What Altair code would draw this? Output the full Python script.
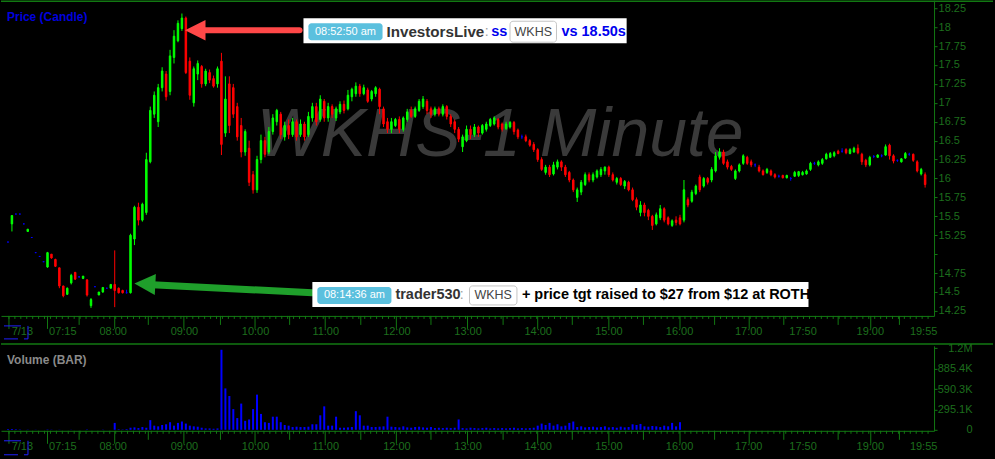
import json
import numpy as np
import pandas as pd
import altair as alt

FONT = "Liberation Sans, Arial, Helvetica, sans-serif"
LINE_GREEN = "#127812"
TEXT_GREEN = "#1d6e1d"
UP, DOWN, FLAT = "#00ff00", "#ff0000", "#0000ff"

# ---- candles: one per slot along the session axis (pre-market, regular, after hours)
opens = [15.16, 15.40, 15.53, 15.53, 15.40, 15.30, 15.22, 15.02, 14.97, 14.90,
         14.83, 15.00, 14.93, 14.82, 14.58, 14.47, 14.62, 14.76, 14.70, 14.68,
         14.66, 14.32, 14.57, 14.46, 14.50, 14.55, 14.55, 14.60, 14.55, 14.52,
         14.49, 14.49, 15.20, 15.62, 15.45, 15.55, 16.22, 16.85, 16.75, 17.20,
         17.38, 17.15, 17.60, 17.82, 17.98, 18.12, 17.55, 17.00, 17.38, 17.48,
         17.25, 17.40, 17.32, 17.25, 17.55, 16.60, 17.25, 17.20, 16.95, 16.70,
         16.35, 16.40, 16.05, 15.85, 16.25, 16.50, 16.35, 16.62, 16.75, 16.85,
         16.55, 16.70, 16.58, 16.75, 16.58, 16.72, 16.58, 16.80, 16.95, 16.78,
         17.02, 16.80, 16.95, 16.80, 16.88, 16.98, 16.92, 17.08, 17.12, 17.22,
         17.12, 17.17, 17.05, 17.12, 17.18, 16.92, 16.75, 16.65, 16.70, 16.78,
         16.65, 16.78, 16.90, 16.82, 16.90, 16.95, 17.02, 16.92, 16.85, 16.92,
         16.85, 16.95, 16.82, 16.75, 16.65, 16.42, 16.50, 16.65, 16.58, 16.68,
         16.60, 16.65, 16.70, 16.72, 16.78, 16.72, 16.66, 16.68, 16.74, 16.64,
         16.55, 16.55, 16.50, 16.45, 16.38, 16.25, 16.08, 16.15, 16.06, 16.15,
         16.22, 16.15, 16.08, 15.98, 15.75, 15.82, 15.92, 16.05, 15.98, 16.02,
         16.05, 16.10, 16.15, 16.05, 15.95, 16.00, 15.90, 15.95, 15.85, 15.72,
         15.55, 15.65, 15.58, 15.50, 15.40, 15.48, 15.60, 15.48, 15.38, 15.45,
         15.48, 15.45, 15.72, 15.70, 15.80, 16.02, 15.90, 16.00, 15.98, 16.10,
         16.28, 16.35, 16.22, 16.16, 16.00, 16.10, 16.20, 16.28, 16.22, 16.18,
         16.15, 16.10, 16.08, 16.10, 16.05, 16.03, 16.04, 16.01, 16.00, 16.03,
         16.04, 16.05, 16.06, 16.12, 16.20, 16.18, 16.20, 16.26, 16.28, 16.30,
         16.36, 16.36, 16.38, 16.33, 16.35, 16.40, 16.32, 16.24, 16.18, 16.29,
         16.28, 16.30, 16.31, 16.44, 16.30, 16.24, 16.22, 16.27, 16.32, 16.32,
         16.22, 16.06, 16.05]
highs = [15.16, 15.51, 15.53, 15.53, 15.40, 15.33, 15.22, 15.02, 14.97, 14.90,
         15.03, 15.00, 14.94, 14.82, 14.58, 14.56, 14.74, 14.76, 14.71, 14.71,
         14.67, 14.42, 14.57, 14.50, 14.56, 14.55, 14.60, 15.05, 14.56, 14.53,
         14.53, 15.27, 15.64, 15.68, 15.68, 16.34, 16.95, 17.15, 17.25, 17.47,
         17.42, 17.70, 17.96, 18.09, 18.18, 18.14, 17.60, 17.48, 17.56, 17.50,
         17.45, 17.44, 17.36, 17.48, 17.66, 17.35, 17.35, 17.25, 17.00, 16.80,
         16.65, 16.50, 16.10, 16.30, 16.58, 16.55, 16.68, 16.85, 16.92, 16.88,
         16.75, 16.78, 16.80, 16.78, 16.78, 16.75, 16.88, 17.00, 17.00, 17.10,
         17.05, 17.00, 16.98, 16.95, 17.02, 17.03, 17.17, 17.20, 17.27, 17.25,
         17.24, 17.20, 17.17, 17.22, 17.20, 16.95, 16.80, 16.80, 16.80, 16.82,
         16.82, 16.92, 16.95, 16.95, 17.05, 17.09, 17.05, 16.95, 16.95, 16.95,
         16.98, 16.97, 16.85, 16.78, 16.68, 16.58, 16.70, 16.70, 16.72, 16.70,
         16.72, 16.75, 16.80, 16.82, 16.80, 16.74, 16.75, 16.76, 16.76, 16.66,
         16.58, 16.58, 16.52, 16.48, 16.40, 16.28, 16.18, 16.18, 16.22, 16.25,
         16.24, 16.18, 16.10, 16.00, 15.88, 15.98, 16.08, 16.08, 16.08, 16.12,
         16.15, 16.16, 16.17, 16.08, 16.02, 16.02, 15.98, 15.97, 15.88, 15.75,
         15.70, 15.68, 15.60, 15.52, 15.55, 15.65, 15.62, 15.50, 15.46, 15.50,
         15.52, 15.98, 15.75, 15.85, 15.92, 16.05, 16.02, 16.02, 16.15, 16.35,
         16.40, 16.38, 16.25, 16.18, 16.12, 16.20, 16.32, 16.30, 16.25, 16.20,
         16.18, 16.12, 16.14, 16.12, 16.07, 16.05, 16.05, 16.05, 16.02, 16.10,
         16.10, 16.10, 16.12, 16.22, 16.22, 16.24, 16.27, 16.34, 16.35, 16.36,
         16.38, 16.40, 16.40, 16.40, 16.42, 16.45, 16.34, 16.26, 16.30, 16.31,
         16.32, 16.32, 16.45, 16.46, 16.32, 16.25, 16.27, 16.35, 16.34, 16.33,
         16.24, 16.14, 16.08]
lows = [15.16, 15.30, 15.53, 15.53, 15.40, 15.30, 15.22, 15.02, 14.97, 14.90,
        14.82, 14.94, 14.83, 14.55, 14.43, 14.46, 14.60, 14.66, 14.69, 14.67,
        14.44, 14.29, 14.57, 14.46, 14.49, 14.55, 14.55, 14.30, 14.48, 14.48,
        14.48, 14.48, 15.12, 15.38, 15.43, 15.52, 16.20, 16.80, 16.68, 17.15,
        17.03, 17.10, 17.52, 17.80, 17.95, 17.38, 17.04, 16.95, 17.30, 17.20,
        17.22, 17.26, 17.20, 17.20, 16.31, 16.55, 16.60, 16.80, 16.50, 16.28,
        16.30, 15.90, 15.80, 15.81, 16.20, 16.28, 16.32, 16.58, 16.70, 16.52,
        16.50, 16.52, 16.55, 16.50, 16.55, 16.50, 16.55, 16.75, 16.70, 16.75,
        16.75, 16.75, 16.80, 16.76, 16.85, 16.86, 16.90, 17.02, 17.08, 17.08,
        17.10, 17.00, 17.02, 17.08, 16.85, 16.68, 16.60, 16.60, 16.68, 16.60,
        16.62, 16.75, 16.80, 16.80, 16.88, 16.92, 16.85, 16.80, 16.82, 16.82,
        16.82, 16.78, 16.68, 16.60, 16.48, 16.35, 16.48, 16.52, 16.55, 16.55,
        16.58, 16.62, 16.68, 16.70, 16.65, 16.62, 16.64, 16.66, 16.58, 16.52,
        16.52, 16.48, 16.42, 16.35, 16.22, 16.10, 16.05, 16.02, 16.04, 16.12,
        16.10, 16.02, 15.95, 15.82, 15.69, 15.78, 15.90, 15.95, 15.95, 16.00,
        16.02, 16.05, 16.02, 15.96, 15.92, 15.90, 15.86, 15.83, 15.70, 15.58,
        15.50, 15.50, 15.45, 15.32, 15.38, 15.45, 15.42, 15.38, 15.36, 15.38,
        15.38, 15.42, 15.62, 15.68, 15.78, 15.82, 15.88, 15.92, 15.95, 16.08,
        16.25, 16.18, 16.12, 16.10, 15.98, 16.08, 16.18, 16.18, 16.15, 16.15,
        16.08, 16.04, 16.06, 16.03, 16.00, 16.01, 16.00, 16.00, 15.97, 16.02,
        16.02, 16.04, 16.05, 16.10, 16.18, 16.16, 16.18, 16.25, 16.27, 16.28,
        16.32, 16.34, 16.32, 16.32, 16.34, 16.32, 16.18, 16.15, 16.16, 16.27,
        16.27, 16.28, 16.30, 16.25, 16.20, 16.22, 16.21, 16.26, 16.30, 16.22,
        16.08, 16.04, 15.88]
closes = [15.16, 15.51, 15.53, 15.53, 15.40, 15.33, 15.22, 15.02, 14.97, 14.90,
          15.02, 14.95, 14.84, 14.58, 14.45, 14.55, 14.72, 14.67, 14.70, 14.71,
          14.46, 14.40, 14.57, 14.50, 14.56, 14.55, 14.60, 14.52, 14.49, 14.49,
          14.49, 15.25, 15.62, 15.45, 15.66, 16.25, 16.90, 17.10, 17.20, 17.42,
          17.08, 17.62, 17.88, 18.05, 18.12, 17.40, 17.10, 17.45, 17.52, 17.25,
          17.42, 17.30, 17.22, 17.45, 16.45, 17.05, 16.70, 16.85, 16.55, 16.35,
          16.62, 15.95, 15.85, 16.25, 16.50, 16.32, 16.62, 16.80, 16.90, 16.58,
          16.70, 16.58, 16.75, 16.55, 16.72, 16.55, 16.82, 16.95, 16.75, 17.05,
          16.80, 16.95, 16.85, 16.92, 16.98, 16.90, 17.10, 17.18, 17.22, 17.12,
          17.20, 17.02, 17.15, 17.20, 16.95, 16.72, 16.65, 16.75, 16.78, 16.65,
          16.80, 16.88, 16.82, 16.92, 17.02, 17.05, 16.90, 16.85, 16.92, 16.85,
          16.95, 16.82, 16.72, 16.65, 16.52, 16.55, 16.65, 16.58, 16.68, 16.60,
          16.70, 16.72, 16.78, 16.80, 16.68, 16.65, 16.72, 16.74, 16.62, 16.55,
          16.55, 16.50, 16.44, 16.38, 16.25, 16.12, 16.15, 16.05, 16.18, 16.22,
          16.15, 16.05, 15.98, 15.85, 15.85, 15.95, 16.05, 15.98, 16.05, 16.10,
          16.12, 16.15, 16.05, 15.98, 16.00, 15.92, 15.96, 15.85, 15.72, 15.62,
          15.65, 15.55, 15.50, 15.38, 15.52, 15.60, 15.45, 15.40, 15.44, 15.42,
          15.40, 15.85, 15.65, 15.82, 15.90, 15.85, 16.00, 15.95, 16.12, 16.30,
          16.35, 16.20, 16.15, 16.12, 16.10, 16.18, 16.30, 16.20, 16.18, 16.18,
          16.10, 16.05, 16.12, 16.05, 16.02, 16.03, 16.01, 16.04, 16.00, 16.08,
          16.09, 16.08, 16.10, 16.20, 16.20, 16.22, 16.25, 16.32, 16.33, 16.34,
          16.33, 16.36, 16.34, 16.38, 16.40, 16.34, 16.22, 16.18, 16.28, 16.29,
          16.31, 16.30, 16.42, 16.30, 16.23, 16.24, 16.26, 16.33, 16.32, 16.24,
          16.10, 16.12, 15.92]

# ---- volume per slot, in thousands of shares (nothing printed after 16:00)
volume_k = [10, 12, 8, 5, 0, 3, 0, 2, 0, 0, 5, 3, 0, 2, 0, 0, 2, 0, 0, 0,
            5, 0, 0, 0, 3, 0, 0, 100, 8, 5, 10, 30, 35, 25, 40, 30, 140, 60, 50, 70,
            80, 110, 60, 100, 120, 90, 60, 50, 45, 30, 20, 20, 15, 20, 1160, 600, 490, 300, 170, 380,
            130, 150, 300, 510, 230, 110, 100, 190, 190, 110, 70, 60, 40, 45, 40, 40, 45, 80, 80, 210,
            340, 60, 60, 190, 30, 30, 35, 40, 270, 210, 60, 60, 40, 40, 45, 50, 190, 45, 40, 35,
            50, 35, 30, 40, 45, 35, 30, 40, 25, 30, 25, 30, 25, 30, 150, 25, 20, 30, 25, 20,
            25, 30, 20, 25, 20, 25, 20, 25, 30, 20, 25, 20, 25, 30, 60, 90, 70, 100, 60, 80,
            50, 60, 100, 120, 40, 50, 35, 40, 45, 35, 40, 50, 35, 40, 30, 45, 35, 40, 80, 70,
            85, 50, 45, 55, 50, 40, 60, 50, 100, 50, 110]

# ---- axis ticks and labels
price_ticks = [14.25, 14.5, 14.75, 15.0, 15.25, 15.5, 15.75, 16.0, 16.25,
               16.5, 16.75, 17.0, 17.25, 17.5, 17.75, 18.0, 18.25]
price_tick_labels = ["14.25", "14.5", "14.75", "", "15.25", "15.5", "15.75", "16", "16.25",
                     "16.5", "16.75", "17", "17.25", "17.5", "17.75", "18", "18.25"]
volume_ticks = [0, 295.1, 590.3, 885.4, 1180.4]
volume_tick_labels = ["0", "295.1K", "590.3K", "885.4K", "1.2M"]
time_label_slots = [3.5, 13.75, 26.5, 44.5, 62.5, 80.25, 98.25, 116.25, 134,
                    151.875, 169.75, 187.25, 201, 218, 231.5]
time_labels = ["7/13", "07:15", "08:00", "09:00", "10:00", "11:00", "12:00", "13:00", "14:00",
               "15:00", "16:00", "17:00", "17:50", "19:00", "19:55"]
hour_tick_slots = [0.25, 10, 27, 44.5, 62.5, 80.25, 98.25, 116.25, 134, 152, 170, 187.5, 218.25]
half_hour_tick_slots = [18, 35.5, 53.75, 71.25, 89.25, 107, 125.25, 142.75, 160.75,
                        178.75, 196.25, 210, 225.5]
minor_tick_slots = list(np.arange(0.25, 233, 1.5))

N_SLOTS = len(opens)
PRICE_H, VOL_H, W = 316, 85, 934

x_scale = alt.Scale(domain=[-0.5, N_SLOTS], nice=False, zero=False)
price_scale = alt.Scale(domain=[14.184, 18.3556], nice=False, zero=False)
volume_scale = alt.Scale(domain=[-14.5, 1216.6], nice=False, zero=False)


def lookup_expr(values, labels):
    return f"{json.dumps(labels)}[indexof({json.dumps(values)}, datum.value)]"


# every layer carries the same axis definition so the layered axes merge into one
time_axis = alt.Axis(values=time_label_slots, labelExpr=lookup_expr(time_label_slots, time_labels),
                     ticks=False, tickSize=0, grid=False, domainColor=LINE_GREEN, domainWidth=1,
                     labelColor=TEXT_GREEN, labelFont=FONT, labelFontSize=11, labelPadding=10,
                     labelFlush=False, labelOverlap=False, title=None)

price_axis = alt.Axis(orient="right", values=price_ticks,
                      labelExpr=lookup_expr(price_ticks, price_tick_labels),
                      tickSize=3, tickColor=LINE_GREEN, domainColor=LINE_GREEN,
                      labelColor=TEXT_GREEN, labelFont=FONT, labelFontSize=11, labelPadding=1,
                      grid=False, title=None, labelFlush=False, labelOverlap=False)

volume_axis = alt.Axis(orient="right", values=volume_ticks,
                       labelExpr=lookup_expr(volume_ticks, volume_tick_labels),
                       tickSize=3, tickColor=LINE_GREEN, domainColor=LINE_GREEN,
                       labelColor=TEXT_GREEN, labelFont=FONT, labelFontSize=11, labelPadding=35,
                       labelAlign="right", grid=False, title=None, labelFlush=False, labelOverlap=False)


def X(field="slot"):
    return alt.X(f"{field}:Q", scale=x_scale, axis=time_axis)


def PY(field):
    return alt.Y(f"{field}:Q", scale=price_scale, axis=price_axis)


one = pd.DataFrame({"k": [0]})


def hline(y, x0=0, x1=993, color=LINE_GREEN, width=1):
    return alt.Chart(one).mark_rule(color=color, strokeWidth=width).encode(
        x=alt.value(x0), x2=alt.value(x1), y=alt.value(y))


def vline(x, y0, y1, color, width=1):
    return alt.Chart(one).mark_rule(color=color, strokeWidth=width).encode(
        x=alt.value(x), y=alt.value(y0), y2=alt.value(y1))


def tick_layer(slots, base, length):
    return alt.Chart(pd.DataFrame({"slot": slots})).mark_rule(color=LINE_GREEN, strokeWidth=1).encode(
        x=X(), y=alt.value(base), y2=alt.value(base + length))


def date_bracket(top, bottom):
    blue = "#2020ff"
    return [hline(top, 3, 20, blue), vline(27, top, bottom, blue),
            hline(bottom, 3, 17, blue), hline(bottom, 23, 27, blue)]


# ---- candle data
candles = pd.DataFrame({"slot": np.arange(N_SLOTS), "open": opens, "high": highs,
                        "low": lows, "close": closes})
candles["dir"] = np.select([candles.close > candles.open, candles.close < candles.open],
                           ["up", "down"], "flat")
candles["body_lo"] = candles[["open", "close"]].min(axis=1)
candles["body_hi"] = candles[["open", "close"]].max(axis=1)
dir_scale = alt.Scale(domain=["up", "down", "flat"], range=[UP, DOWN, FLAT])

wicks = alt.Chart(candles).mark_rule(strokeWidth=1).encode(
    x=X(), y=PY("low"), y2="high:Q",
    color=alt.Color("dir:N", scale=dir_scale, legend=None))

bodies = alt.Chart(candles).mark_bar(size=1.5, strokeWidth=1).encode(
    x=X(), y=PY("body_lo"), y2="body_hi:Q",
    color=alt.Color("dir:N", scale=dir_scale, legend=None),
    stroke=alt.Stroke("dir:N", scale=dir_scale, legend=None))

watermark = alt.Chart(pd.DataFrame({"slot": [124.5], "price": [16.296], "t": ["WKHS-1 Minute"]})).mark_text(
    font=FONT, fontSize=68, fontStyle="italic", color="#3a3a3a", align="center", baseline="alphabetic"
).encode(x=X(), y=PY("price"), text="t:N")

panel_title = alt.Chart(one).mark_text(
    text="Price (Candle)", font=FONT, fontSize=12, fontWeight="bold", color="#0000dd",
    align="left", baseline="middle").encode(x=alt.value(6), y=alt.value(17))

# ---- chat callouts
RED_ARROW, GREEN_ARROW = "#ff4848", "#1f9f2b"
shafts = pd.DataFrame({"x": [49.5, 36.5], "x2": [73.75, 77.0], "y": [17.96, 14.596],
                       "y2": [17.96, 14.490], "c": [RED_ARROW, GREEN_ARROW], "w": [6, 7]})
shaft_layers = [
    alt.Chart(shafts.iloc[[i]]).mark_rule(strokeCap="round", strokeWidth=float(shafts.w[i]),
                                          color=shafts.c[i]).encode(
        x=X("x"), x2="x2:Q", y=PY("y"), y2="y2:Q")
    for i in range(2)
]
heads = pd.DataFrame({"x": [47.375, 34.625], "y": [17.96, 14.606]})
head_layers = [
    alt.Chart(heads.iloc[[0]]).mark_point(shape="M -1 0 L 1 -1 L 1 1 Z", size=420, filled=True,
                                          opacity=1, color=RED_ARROW).encode(x=X("x"), y=PY("y")),
    alt.Chart(heads.iloc[[1]]).mark_point(shape="M -1 0 L 1 -1 L 1 1 Z", size=441, filled=True,
                                          opacity=1, angle=3, color=GREEN_ARROW).encode(x=X("x"), y=PY("y")),
]

callout_boxes = pd.DataFrame({"x": [74.75, 77.0], "x2": [156.5, 202.5],
                              "y": [17.788, 14.303], "y2": [18.118, 14.633]})
badge_boxes = pd.DataFrame({"x": [76.0, 78.25], "x2": [94.75, 97.0],
                            "y": [17.828, 14.342], "y2": [18.052, 14.567]})
ticker_boxes = pd.DataFrame({"x": [127.0, 116.75], "x2": [138.75, 128.75],
                             "y": [17.801, 14.329], "y2": [18.078, 14.580]})


def rects(df, **kw):
    return alt.Chart(df).mark_rect(**kw).encode(x=X("x"), x2="x2:Q", y=PY("y"), y2="y2:Q")


def texts(rows, **kw):
    df = pd.DataFrame(rows, columns=["x", "y", "t"])
    return alt.Chart(df).mark_text(font=FONT, baseline="middle", **kw).encode(
        x=X("x"), y=PY("y"), text="t:N")


callouts = [
    rects(callout_boxes, color="#ffffff"),
    rects(badge_boxes, color="#5bc0de", cornerRadius=3),
    rects(ticker_boxes, color="#ffffff", stroke="#c4c4c4", strokeWidth=1, cornerRadius=3),
    texts([(85.375, 17.94, "08:52:50 am"), (87.625, 14.455, "08:14:36 am")],
          fontSize=11, color="#ffffff", align="center"),
    texts([(95.75, 17.94, "InvestorsLive")],
          fontSize=15.2, fontWeight="bold", color="#333333", align="left"),
    texts([(98.0, 14.455, "trader530")],
          fontSize=14.5, fontWeight="bold", color="#333333", align="left"),
    texts([(120.6, 17.94, ":"), (114.3, 14.455, ":")],
          fontSize=14, color="#a0a0a0", align="left"),
    texts([(122.25, 17.94, "ss"), (140.0, 17.94, "vs 18.50s")],
          fontSize=14.5, fontWeight="bold", color="#0000ee", align="left"),
    texts([(132.875, 17.94, "WKHS"), (122.75, 14.455, "WKHS")],
          fontSize=12.5, color="#444444", align="center"),
    texts([(130.0, 14.455, "+ price tgt raised to $27 from $12 at ROTH")],
          fontSize=14.5, fontWeight="bold", color="#000000", align="left"),
]

price_panel = alt.layer(
    hline(1, width=1.5), hline(344, width=1.5),
    watermark, wicks, bodies, panel_title,
    *shaft_layers, *head_layers, *callouts,
    tick_layer(minor_tick_slots, PRICE_H, 3),
    tick_layer(half_hour_tick_slots, PRICE_H, 9),
    tick_layer(hour_tick_slots, PRICE_H, 13),
    *date_bracket(326, 339),
).properties(width=W, height=PRICE_H)

# ---- volume panel
vol = pd.DataFrame({"slot": np.arange(len(volume_k)), "vol": volume_k})
vol = vol[vol.vol > 0]

vol_bars = alt.Chart(vol).mark_bar(size=2, color="#0000ff").encode(
    x=X(),
    y=alt.Y("vol:Q", scale=volume_scale, axis=volume_axis),
    y2=alt.datum(0))

vol_title = alt.Chart(one).mark_text(
    text="Volume (BAR)", font=FONT, fontSize=12, fontWeight="bold", color="#8a8a8a",
    align="left", baseline="middle").encode(x=alt.value(6), y=alt.value(14))

volume_panel = alt.layer(
    vol_bars, vol_title,
    tick_layer(minor_tick_slots, VOL_H, 3),
    tick_layer(half_hour_tick_slots, VOL_H, 9),
    tick_layer(hour_tick_slots, VOL_H, 13),
    *date_bracket(95, 109),
).properties(width=W, height=VOL_H)

chart = alt.vconcat(price_panel, volume_panel, spacing=30, bounds="flush").properties(
    background="#000000", padding={"left": 0, "top": 0, "right": 1, "bottom": 5}
).configure_view(stroke=None)

chart.save("out.html", embed_options={"renderer": "svg", "actions": False})
